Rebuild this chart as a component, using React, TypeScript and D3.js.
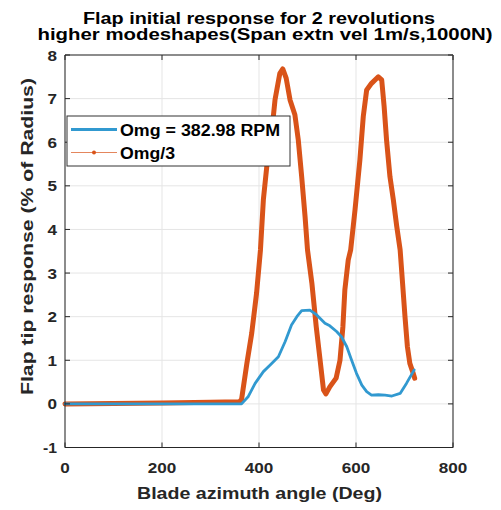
import React from "react";
import * as d3 from "d3";

const xTicks = [0, 200, 400, 600, 800];
const yTicks = [-1, 0, 1, 2, 3, 4, 5, 6, 7, 8];

const omgAngle = [0, 364, 378, 392, 409, 423, 440, 454, 467, 478, 488, 505, 519, 536, 546, 560, 570, 581, 591, 601, 612, 622, 632, 646, 660, 674, 691, 704, 720];
const omgValue = [0, 0, 0.17, 0.47, 0.74, 0.89, 1.08, 1.43, 1.81, 2.0, 2.14, 2.15, 2.04, 1.85, 1.79, 1.66, 1.54, 1.31, 1.0, 0.7, 0.43, 0.28, 0.2, 0.21, 0.2, 0.18, 0.24, 0.47, 0.78];

const omg3Angle = [0, 100, 200, 300, 360, 364, 375, 385, 395, 403, 409, 416, 426, 433, 443, 449, 456, 464, 474, 481, 488, 495, 500, 509, 518, 526, 533, 538, 546, 559, 567, 573, 577, 584, 589, 598, 608, 615, 622, 632, 646, 653, 658, 663, 670, 677, 684, 691, 696, 701, 706, 711, 718, 721];
const omg3Value = [0, 0.01, 0.02, 0.04, 0.05, 0.1, 0.93, 1.62, 2.54, 3.53, 4.68, 5.44, 6.2, 6.97, 7.58, 7.68, 7.47, 6.97, 6.63, 6.05, 5.21, 4.29, 3.53, 2.77, 1.77, 1.0, 0.32, 0.23, 0.39, 0.59, 1.0, 1.77, 2.61, 3.3, 3.53, 4.45, 5.59, 6.59, 7.2, 7.35, 7.5, 7.43, 6.82, 6.05, 5.21, 4.68, 4.07, 3.53, 2.77, 2.0, 1.31, 0.93, 0.7, 0.59];

const titleLines = ["Flap initial response for 2 revolutions", "higher modeshapes(Span extn vel 1m/s,1000N)"];
const legendLabels = ["Omg = 382.98 RPM", "Omg/3"];
const xLabel = "Blade azimuth angle (Deg)";
const yLabel = "Flap tip response (% of Radius)";

const BLUE = "#3199d0";
const RED = "#d95319";
const FONT = "'Liberation Sans', Arial, Helvetica, sans-serif";

export default function App() {
  const W = 501, H = 510;
  const L = 65, R = 453, T = 55, B = 447.5;
  const x = d3.scaleLinear().domain([0, 800]).range([L, R]);
  const y = d3.scaleLinear().domain([-1, 8]).range([B, T]);
  const line = d3.line<[number, number]>().x(d => x(d[0])).y(d => y(d[1]));
  const blue = line(omgAngle.map((a, i) => [a, omgValue[i]] as [number, number])) || "";
  const red = line(omg3Angle.map((a, i) => [a, omg3Value[i]] as [number, number])) || "";
  const axisColor = "#262626";
  const tl = 5;
  const titleX = [259, 265];
  const titleY = [23.5, 40];
  const titleLen = [352, 455];
  return (
    <svg width={W} height={H} style={{ position: "absolute", left: 0, top: 0, background: "#fff" }} fontFamily={FONT}>
      <rect x={0} y={0} width={W} height={H} fill="#fff" />
      {xTicks.map(t => (
        <line key={"gx" + t} x1={x(t)} x2={x(t)} y1={T} y2={B} stroke="#e5e5e5" strokeWidth={1} />
      ))}
      {yTicks.map(t => (
        <line key={"gy" + t} x1={L} x2={R} y1={y(t)} y2={y(t)} stroke="#e5e5e5" strokeWidth={1} />
      ))}
      <path d={red} fill="none" stroke={RED} strokeWidth={5} strokeLinejoin="round" strokeLinecap="round" />
      <path d={blue} fill="none" stroke={BLUE} strokeWidth={2.8} strokeLinejoin="round" strokeLinecap="round" />
      <line x1={L} x2={R} y1={T} y2={T} stroke={axisColor} strokeWidth={1} />
      <line x1={L} x2={R} y1={B} y2={B} stroke={axisColor} strokeWidth={1} />
      <line x1={L} x2={L} y1={T} y2={B} stroke={axisColor} strokeWidth={1} />
      <line x1={R} x2={R} y1={T} y2={B} stroke="#8c8c8c" strokeWidth={2} />
      {xTicks.map(t => (
        <g key={"xt" + t}>
          <line x1={x(t)} x2={x(t)} y1={B} y2={B - tl} stroke={axisColor} />
          <line x1={x(t)} x2={x(t)} y1={T} y2={T + tl} stroke={axisColor} />
          <text x={x(t)} y={472.5} textAnchor="middle" fontSize={15} fontWeight="bold" fill="#262626"
            textLength={String(t).length * 9.5} lengthAdjust="spacingAndGlyphs">{t}</text>
        </g>
      ))}
      {yTicks.map(t => (
        <g key={"yt" + t}>
          <line x1={L} x2={L + tl} y1={y(t)} y2={y(t)} stroke={axisColor} />
          <line x1={R} x2={R - tl} y1={y(t)} y2={y(t)} stroke={axisColor} />
          <text x={57} y={y(t) + 5.5} textAnchor="end" fontSize={15} fontWeight="bold" fill="#262626"
            textLength={t < 0 ? 14 : 9.5} lengthAdjust="spacingAndGlyphs">{t}</text>
        </g>
      ))}
      <text x={259.5} y={499} textAnchor="middle" fontSize={16} fontWeight="bold" fill="#262626"
        textLength={245} lengthAdjust="spacingAndGlyphs">{xLabel}</text>
      <text transform="translate(32.5,236.5) rotate(-90)" textAnchor="middle" fontSize={17} fontWeight="bold" fill="#262626"
        textLength={317} lengthAdjust="spacingAndGlyphs">{yLabel}</text>
      {titleLines.map((s, i) => (
        <text key={s} x={titleX[i]} y={titleY[i]} textAnchor="middle" fontSize={16} fontWeight="bold" fill="#000"
          textLength={titleLen[i]} lengthAdjust="spacingAndGlyphs">{s}</text>
      ))}
      <rect x={67} y={116} width={223} height={50} fill="#fff" stroke="#333" strokeWidth={1} />
      <line x1={71} x2={117} y1={129.5} y2={129.5} stroke={BLUE} strokeWidth={3} />
      <line x1={71} x2={117} y1={152.5} y2={152.5} stroke={RED} strokeWidth={1.2} opacity={0.7} />
      <circle cx={94} cy={152.5} r={2} fill={RED} />
      <text x={120} y={136} fontSize={16} fontWeight="bold" fill="#000" textLength={160} lengthAdjust="spacingAndGlyphs">{legendLabels[0]}</text>
      <text x={120} y={159} fontSize={16} fontWeight="bold" fill="#000" textLength={55} lengthAdjust="spacingAndGlyphs">{legendLabels[1]}</text>
    </svg>
  );
}
